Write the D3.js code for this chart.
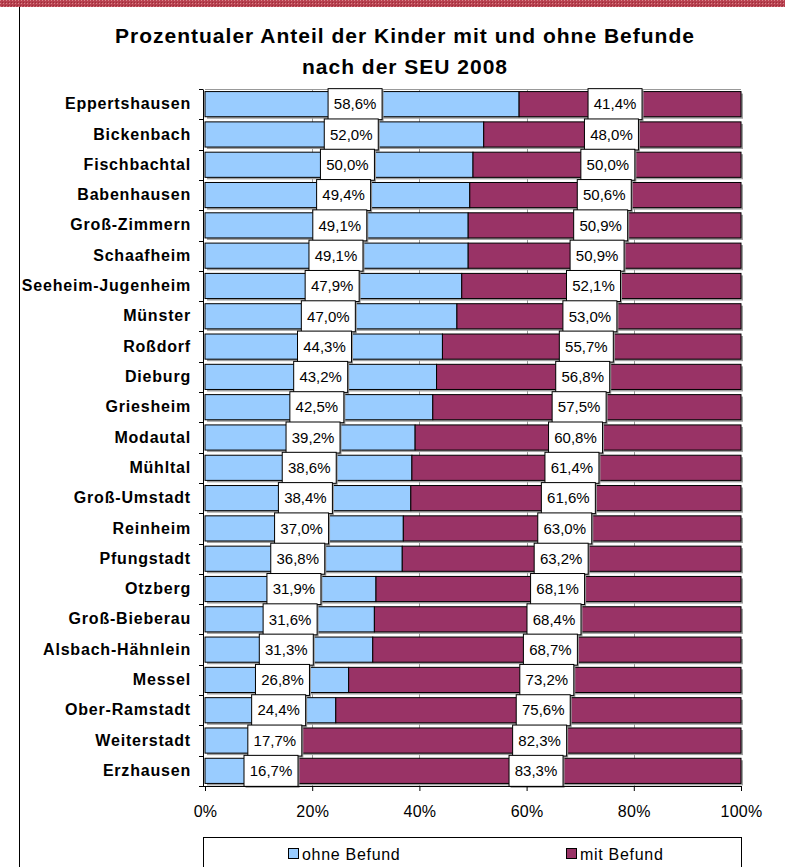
<!DOCTYPE html>
<html>
<head>
<meta charset="utf-8">
<script src="https://cdn.jsdelivr.net/npm/d3@7"></script>
<style>
  html, body { margin: 0; padding: 0; background: #fff; }
  svg { display: block; font-family: "Liberation Sans", Arial, sans-serif; }
</style>
</head>
<body>
<svg id="chart"></svg>
<script>
// Gemeinden (top to bottom)
const gemeinden = [
  "Eppertshausen", "Bickenbach", "Fischbachtal", "Babenhausen", "Groß-Zimmern",
  "Schaafheim", "Seeheim-Jugenheim", "Münster", "Roßdorf", "Dieburg",
  "Griesheim", "Modautal", "Mühltal", "Groß-Umstadt", "Reinheim",
  "Pfungstadt", "Otzberg", "Groß-Bieberau", "Alsbach-Hähnlein", "Messel",
  "Ober-Ramstadt", "Weiterstadt", "Erzhausen"
];
const ohneBefund = [
  58.6, 52.0, 50.0, 49.4, 49.1, 49.1, 47.9, 47.0, 44.3, 43.2, 42.5, 39.2,
  38.6, 38.4, 37.0, 36.8, 31.9, 31.6, 31.3, 26.8, 24.4, 17.7, 16.7
];
const mitBefund = [
  41.4, 48.0, 50.0, 50.6, 50.9, 50.9, 52.1, 53.0, 55.7, 56.8, 57.5, 60.8,
  61.4, 61.6, 63.0, 63.2, 68.1, 68.4, 68.7, 73.2, 75.6, 82.3, 83.3
];
const seriesNames = ["ohne Befund", "mit Befund"];
const xTicks = [0, 20, 40, 60, 80, 100];
const titleLines = ["Prozentualer Anteil der Kinder mit und ohne Befunde", "nach der SEU 2008"];

const width = 785;
const height = 867;
const plot = { left: 205, right: 741, top: 89, bottom: 786 };
const colors = { ohne: "#99ccff", mit: "#993366" };

const svg = d3.select("#chart").attr("width", width).attr("height", height);

// Decorative top stripe
const defs = svg.append("defs");
const pat = defs.append("pattern")
  .attr("id", "stripe").attr("width", 3).attr("height", 3)
  .attr("patternUnits", "userSpaceOnUse");
pat.append("rect").attr("width", 3).attr("height", 3).attr("fill", "#b8414f");
pat.append("rect").attr("width", 1).attr("height", 1).attr("fill", "#d8848c");
pat.append("rect").attr("x", 2).attr("y", 2).attr("width", 1).attr("height", 1).attr("fill", "#9a2c3a");
svg.append("rect").attr("width", width).attr("height", 7).attr("fill", "url(#stripe)");

// Frame line on the left
svg.append("line")
  .attr("x1", 19.5).attr("x2", 19.5).attr("y1", 7).attr("y2", height)
  .attr("stroke", "#000").attr("stroke-width", 1);

// Title
svg.append("g").selectAll("text")
  .data(titleLines)
  .join("text")
  .attr("x", 405)
  .attr("y", (d, i) => 43 + i * 31)
  .attr("text-anchor", "middle")
  .attr("font-size", 21)
  .attr("font-weight", "bold")
  .attr("letter-spacing", 1.0)
  .text((d) => d);

const xScale = d3.scaleLinear().domain([0, 100]).range([plot.left, plot.right]);
const yScale = d3.scaleBand()
  .domain(gemeinden)
  .range([plot.top, plot.bottom])
  .paddingInner(0.17)
  .paddingOuter(0.085);
const step = yScale.step();

// Gridlines
svg.append("line")
  .attr("x1", plot.left).attr("x2", plot.right)
  .attr("y1", plot.top + 0.5).attr("y2", plot.top + 0.5)
  .attr("stroke", "#999");
svg.append("g").selectAll("line")
  .data(xTicks.filter((d) => d > 0 && d < 100))
  .join("line")
  .attr("x1", (d) => Math.round(xScale(d)) + 0.5)
  .attr("x2", (d) => Math.round(xScale(d)) + 0.5)
  .attr("y1", plot.top).attr("y2", plot.bottom)
  .attr("stroke", "#999");

// Stacked rows
const rows = gemeinden.map((g, i) => ({ name: g, i, ohne: ohneBefund[i], mit: mitBefund[i] }));

const rowG = svg.append("g").selectAll("g")
  .data(rows)
  .join("g")
  .attr("transform", (d) => `translate(0, ${yScale(d.name)})`);

const bh = yScale.bandwidth();

// shadow
rowG.append("rect")
  .attr("x", xScale(0) + 2)
  .attr("y", 2)
  .attr("width", xScale(100) - xScale(0))
  .attr("height", bh)
  .attr("fill", "#a0a0a0");

rowG.append("rect")
  .attr("x", xScale(0))
  .attr("y", 0)
  .attr("width", (d) => xScale(d.ohne) - xScale(0))
  .attr("height", bh)
  .attr("fill", colors.ohne)
  .attr("stroke", "#000");

rowG.append("rect")
  .attr("x", (d) => xScale(d.ohne))
  .attr("y", 0)
  .attr("width", (d) => xScale(100) - xScale(d.ohne))
  .attr("height", bh)
  .attr("fill", colors.mit)
  .attr("stroke", "#000");

// Axes
const yAxis = d3.axisLeft(yScale).tickSize(0).tickPadding(12);
const yAxisG = svg.append("g")
  .attr("transform", `translate(${plot.left - 2}, 0)`)
  .call(yAxis);
yAxisG.select(".domain").attr("stroke", "#000");
yAxisG.selectAll(".tick text")
  .attr("font-size", 16)
  .attr("font-weight", "bold")
  .attr("letter-spacing", 0.8)
  .attr("fill", "#000")
  .attr("font-family", "Liberation Sans, Arial, sans-serif");
// band boundary ticks
yAxisG.append("g").selectAll("line")
  .data(d3.range(gemeinden.length + 1))
  .join("line")
  .attr("x1", -4).attr("x2", 0)
  .attr("y1", (d) => Math.round(plot.top + d * step) + 0.5)
  .attr("y2", (d) => Math.round(plot.top + d * step) + 0.5)
  .attr("stroke", "#000");

const xAxis = d3.axisBottom(xScale)
  .tickValues(xTicks)
  .tickSize(5)
  .tickPadding(15)
  .tickFormat((d) => d + "%");
const xAxisG = svg.append("g")
  .attr("transform", `translate(0, ${plot.bottom})`)
  .call(xAxis);
xAxisG.select(".domain").attr("d", `M${plot.left - 2},0.5H${plot.right}`).attr("stroke", "#000");
xAxisG.selectAll(".tick text")
  .attr("font-size", 16)
  .attr("fill", "#000")
  .attr("letter-spacing", 0.3)
  .attr("font-family", "Liberation Sans, Arial, sans-serif");

// Data labels
const boxW = 54, boxH = 31;
function addLabels(key, pos) {
  const lg = rowG.append("g")
    .attr("transform", (d) => `translate(${xScale(pos(d))}, ${bh / 2})`);
  lg.append("rect")
    .attr("x", -boxW / 2 + 1.5).attr("y", -boxH / 2 + 1.5)
    .attr("width", boxW).attr("height", boxH)
    .attr("fill", "#999");
  lg.append("rect")
    .attr("x", -boxW / 2).attr("y", -boxH / 2)
    .attr("width", boxW).attr("height", boxH)
    .attr("fill", "#fff")
    .attr("stroke", "#000");
  lg.append("text")
    .attr("text-anchor", "middle")
    .attr("dy", "0.35em")
    .attr("font-size", 15)
    .text((d) => d[key].toFixed(1).replace(".", ",") + "%");
}
addLabels("ohne", (d) => 28.0 - 0.713 * d.i);
addLabels("mit", (d) => 76.5 - 0.67 * d.i);

// Legend
const legend = svg.append("g").attr("transform", `translate(${plot.left - 2}, 837)`);
legend.append("rect")
  .attr("x", 0.5).attr("y", 0.5)
  .attr("width", plot.right - plot.left + 2).attr("height", 40)
  .attr("fill", "#fff").attr("stroke", "#000");
const items = legend.selectAll(".item")
  .data(seriesNames)
  .join("g")
  .attr("class", "item")
  .attr("transform", (d, i) => `translate(${[85, 363][i]}, 17)`);
items.append("rect")
  .attr("x", 0.5).attr("y", -5.5)
  .attr("width", 10).attr("height", 10)
  .attr("fill", (d, i) => [colors.ohne, colors.mit][i])
  .attr("stroke", "#000");
items.append("text")
  .attr("x", 14)
  .attr("dy", "0.35em")
  .attr("font-size", 16)
  .attr("letter-spacing", 0.7)
  .text((d) => d);
</script>
</body>
</html>
